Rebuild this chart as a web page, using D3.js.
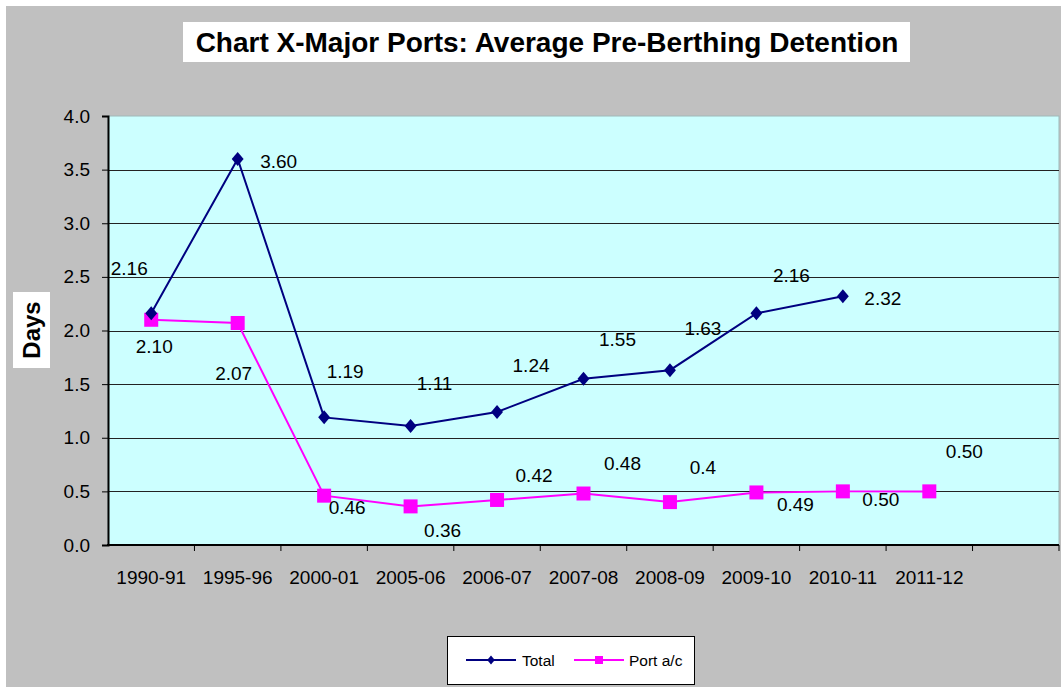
<!DOCTYPE html>
<html>
<head>
<meta charset="utf-8">
<script src="https://cdn.jsdelivr.net/npm/d3@7"></script>
<style>
  body { margin: 0; background: #fff; }
  svg { display: block; font-family: "Liberation Sans", Arial, sans-serif; }
</style>
</head>
<body>
<div id="chart"></div>
<script>
// chart data
var years = ["1990-91", "1995-96", "2000-01", "2005-06", "2006-07", "2007-08", "2008-09", "2009-10", "2010-11", "2011-12", ""];
var total = [2.16, 3.60, 1.19, 1.11, 1.24, 1.55, 1.63, 2.16, 2.32];
var portAc = [2.10, 2.07, 0.46, 0.36, 0.42, 0.48, 0.40, 0.49, 0.50, 0.50];
var totalLabels = ["2.16", "3.60", "1.19", "1.11", "1.24", "1.55", "1.63", "2.16", "2.32"];
var portLabels = ["2.10", "2.07", "0.46", "0.36", "0.42", "0.48", "0.4", "0.49", "0.50", "0.50"];
var yTicks = [0, 0.5, 1, 1.5, 2, 2.5, 3, 3.5, 4];

// where the data labels sit relative to their points (as in the original)
var totalDx = [-22, 41, 21, 24, 34, 34, 33, 35, 40];
var totalDy = [-45, 2, -46, -43, -47, -39, -42, -38, 2];
var portDx = [3, -4, 23, 32, 37, 39, 33, 39, 38, 35];
var portDy = [27, 50, 12, 24, -25, -30, -35, 12, 8, -40];

var W = 1061, H = 687;
var plotL = 108, plotR = 1059, plotT = 116, plotB = 545;

var svg = d3.select("#chart").append("svg")
    .attr("width", W)
    .attr("height", H);

// grey chart area
svg.append("rect")
    .attr("x", 6).attr("y", 6)
    .attr("width", W - 6).attr("height", H - 6)
    .attr("fill", "#c0c0c0");

var x = d3.scaleBand().domain(years).range([plotL, plotR]);
var y = d3.scaleLinear().domain([0, 4]).range([plotB, plotT]);

// plot area
svg.append("rect")
    .attr("x", plotL).attr("y", plotT)
    .attr("width", plotR - plotL).attr("height", plotB - plotT)
    .attr("fill", "#ccffff")
    .attr("stroke", "#9fb8b8")
    .attr("stroke-width", 1);

svg.selectAll(".grid")
    .data(yTicks.filter(function(d){ return d > 0 && d < 4; }))
    .enter().append("line")
    .attr("class", "grid")
    .attr("x1", plotL).attr("x2", plotR)
    .attr("y1", function(d){ return Math.round(y(d)) + 0.5; })
    .attr("y2", function(d){ return Math.round(y(d)) + 0.5; })
    .attr("stroke", "#222")
    .attr("stroke-width", 1);

// y axis
var yAxis = svg.append("g")
    .attr("transform", "translate(" + plotL + ",0)")
    .call(d3.axisLeft(y).tickValues(yTicks).tickFormat(d3.format(".1f")).tickSize(6).tickPadding(12));
yAxis.select(".domain").attr("stroke", "#000").attr("stroke-width", 2);
yAxis.selectAll(".tick line").attr("stroke", "#000");
yAxis.selectAll("text").attr("font-size", 19).attr("fill", "#000")
    .attr("font-family", "Liberation Sans, Arial, sans-serif");

// x axis: ticks at band edges, labels at band centres
var xAxis = svg.append("g").attr("transform", "translate(0," + plotB + ")");
xAxis.append("line")
    .attr("x1", plotL - 1).attr("x2", plotR)
    .attr("stroke", "#000").attr("stroke-width", 2);
xAxis.selectAll(".xt")
    .data(years)
    .enter().append("line")
    .attr("class", "xt")
    .attr("x1", function(d){ return x(d) + x.bandwidth(); })
    .attr("x2", function(d){ return x(d) + x.bandwidth(); })
    .attr("y1", 0).attr("y2", 6)
    .attr("stroke", "#000");
xAxis.selectAll(".xl")
    .data(years)
    .enter().append("text")
    .attr("class", "xl")
    .attr("x", function(d){ return x(d) + x.bandwidth() / 2; })
    .attr("y", 39)
    .attr("text-anchor", "middle")
    .attr("font-size", 19)
    .text(function(d){ return d; });

function cx(i){ return x(years[i]) + x.bandwidth() / 2; }

// lines
var line = d3.line()
    .x(function(d, i){ return cx(i); })
    .y(function(d){ return y(d); });

svg.append("path")
    .datum(portAc)
    .attr("d", line)
    .attr("fill", "none")
    .attr("stroke", "#ff00ff")
    .attr("stroke-width", 2);

svg.append("path")
    .datum(total)
    .attr("d", line)
    .attr("fill", "none")
    .attr("stroke", "#000080")
    .attr("stroke-width", 2);

// markers
function diamond(s){
    return "M0," + (-s) + "L" + (s * 0.85) + ",0L0," + s + "L" + (-s * 0.85) + ",0Z";
}

svg.selectAll(".sq")
    .data(portAc)
    .enter().append("rect")
    .attr("class", "sq")
    .attr("x", function(d, i){ return cx(i) - 7; })
    .attr("y", function(d){ return y(d) - 7; })
    .attr("width", 14).attr("height", 14)
    .attr("fill", "#ff00ff");

svg.selectAll(".dm")
    .data(total)
    .enter().append("path")
    .attr("class", "dm")
    .attr("transform", function(d, i){ return "translate(" + cx(i) + "," + y(d) + ")"; })
    .attr("d", diamond(7))
    .attr("fill", "#000080");

// data labels
svg.selectAll(".tl")
    .data(total)
    .enter().append("text")
    .attr("class", "tl")
    .attr("x", function(d, i){ return cx(i) + totalDx[i]; })
    .attr("y", function(d, i){ return y(d) + totalDy[i]; })
    .attr("dy", "0.35em")
    .attr("text-anchor", "middle")
    .attr("font-size", 19)
    .text(function(d, i){ return totalLabels[i]; });

svg.selectAll(".pl")
    .data(portAc)
    .enter().append("text")
    .attr("class", "pl")
    .attr("x", function(d, i){ return cx(i) + portDx[i]; })
    .attr("y", function(d, i){ return y(d) + portDy[i]; })
    .attr("dy", "0.35em")
    .attr("text-anchor", "middle")
    .attr("font-size", 19)
    .text(function(d, i){ return portLabels[i]; });

// title
svg.append("rect")
    .attr("x", 183).attr("y", 22)
    .attr("width", 727).attr("height", 40)
    .attr("fill", "#fff");
svg.append("text")
    .attr("x", 547).attr("y", 52)
    .attr("text-anchor", "middle")
    .attr("font-size", 28)
    .attr("font-weight", "bold")
    .text("Chart X-Major Ports: Average Pre-Berthing Detention");

// y axis title
svg.append("rect")
    .attr("x", 13).attr("y", 292)
    .attr("width", 37).attr("height", 76)
    .attr("fill", "#fff");
svg.append("text")
    .attr("transform", "translate(40,330) rotate(-90)")
    .attr("text-anchor", "middle")
    .attr("font-size", 24)
    .attr("font-weight", "bold")
    .text("Days");

// legend
var lg = svg.append("g");
lg.append("rect")
    .attr("x", 447.5).attr("y", 636.5)
    .attr("width", 247).attr("height", 48)
    .attr("fill", "#fff").attr("stroke", "#000");
lg.append("line")
    .attr("x1", 466).attr("x2", 516).attr("y1", 660).attr("y2", 660)
    .attr("stroke", "#000080").attr("stroke-width", 2);
lg.append("path")
    .attr("transform", "translate(491,660)")
    .attr("d", diamond(4.5))
    .attr("fill", "#000080");
lg.append("text")
    .attr("x", 522).attr("y", 666)
    .attr("font-size", 15.5)
    .text("Total");
lg.append("line")
    .attr("x1", 574).attr("x2", 624).attr("y1", 660).attr("y2", 660)
    .attr("stroke", "#ff00ff").attr("stroke-width", 2);
lg.append("rect")
    .attr("x", 595).attr("y", 656)
    .attr("width", 8).attr("height", 8)
    .attr("fill", "#ff00ff");
lg.append("text")
    .attr("x", 629).attr("y", 666)
    .attr("font-size", 15.5)
    .text("Port a/c");
</script>
</body>
</html>
